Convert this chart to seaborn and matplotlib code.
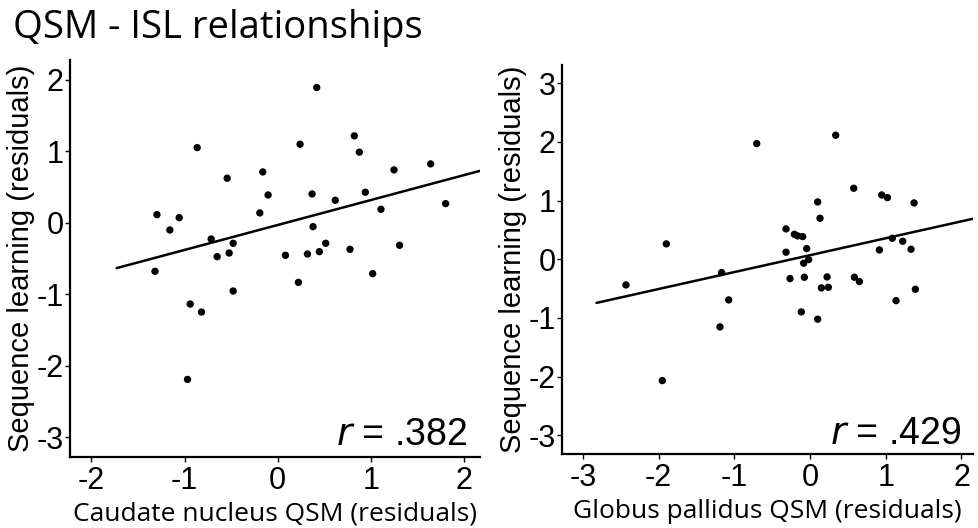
import numpy as np
import pandas as pd
import matplotlib
matplotlib.use("Agg")
import matplotlib.pyplot as plt
import seaborn as sns

# Caudate nucleus panel
caudate_x = [0.418, -0.865, 0.239, 0.821, 0.875, 1.640, 1.247, -0.161, -0.543, -0.104,
             0.368, 0.939, 0.617, 1.801, 1.107, -1.297, -1.058, -0.193, -1.158, 0.378,
             -0.715, -0.479, -0.522, -0.651, 0.082, 0.318, 0.446, 0.514, 0.775, 1.307,
             -1.318, 1.018, 0.221, -0.479, -0.940, -0.819, -0.969]
caudate_y = [1.888, 1.049, 1.096, 1.213, 0.985, 0.821, 0.737, 0.709, 0.621, 0.387,
             0.401, 0.425, 0.313, 0.266, 0.187, 0.112, 0.070, 0.136, -0.102, -0.056,
             -0.228, -0.288, -0.424, -0.475, -0.456, -0.438, -0.405, -0.288, -0.372, -0.316,
             -0.680, -0.713, -0.834, -0.955, -1.137, -1.249, -2.190]

# Globus pallidus panel
pallidus_x = [0.339, -0.704, 0.577, 0.947, 1.022, 0.101, 1.374, 0.132, -0.317, -0.207,
              -0.163, -0.097, 1.087, 1.224, -1.898, -0.044, 0.916, 1.334, -0.317, -0.018,
              -0.084, -1.167, -0.264, -0.075, 0.225, 0.586, 0.652, -2.431, 0.150, 0.242,
              1.391, -1.074, 1.136, -0.115, 0.101, -1.189, -1.951]
pallidus_y = [2.112, 1.970, 1.209, 1.095, 1.050, 0.976, 0.959, 0.698, 0.516, 0.425,
              0.397, 0.385, 0.357, 0.306, 0.261, 0.181, 0.158, 0.170, 0.119, -0.006,
              -0.068, -0.228, -0.330, -0.307, -0.302, -0.307, -0.381, -0.438, -0.489, -0.478,
              -0.512, -0.693, -0.705, -0.898, -1.022, -1.153, -2.068]

title = "QSM - ISL relationships"
ylabel = "Sequence learning (residuals)"
xlabels = ["Caudate nucleus QSM (residuals)", "Globus pallidus QSM (residuals)"]
r_labels = [".382", ".429"]
left_xticks = [-2, -1, 0, 1, 2]
left_yticks = [2, 1, 0, -1, -2, -3]
right_xticks = [-3, -2, -1, 0, 1, 2]
right_yticks = [3, 2, 1, 0, -1, -2, -3]

sns.set_theme(style="ticks")
plt.rcParams['font.family'] = ['Liberation Sans', 'DejaVu Sans']

fig = plt.figure(figsize=(9.79, 5.28), dpi=100)
ax1 = fig.add_axes([0.0715, 0.135, 0.4188, 0.751])
ax2 = fig.add_axes([0.5737, 0.140, 0.420, 0.737])

panels = [
    (ax1, caudate_x, caudate_y, (-1.73, 2.17), (-2.23, 2.17), (-3.27, 2.27), left_xticks, left_yticks, 0.97, 0.03),
    (ax2, pallidus_x, pallidus_y, (-2.82, 2.15), (-3.28, 2.15), (-3.32, 3.31), right_xticks, right_yticks, 0.973, 0.027),
]

for i, (ax, xs, ys, line_rng, xlim, ylim, xt, yt, rx, ry) in enumerate(panels):
    df = pd.DataFrame({"x": xs, "y": ys})
    ax.set_xlim(*line_rng)
    sns.regplot(data=df, x="x", y="y", ax=ax, ci=None, truncate=False,
                scatter_kws=dict(s=28, color="black", edgecolor="none", alpha=1),
                line_kws=dict(color="black", lw=1.8))
    ax.set_xlim(*xlim)
    ax.set_ylim(*ylim)
    ax.set_xticks(xt)
    ax.set_yticks(yt)
    ax.set_xticklabels([str(v) for v in xt])
    ax.set_yticklabels([str(v) for v in yt])
    for s in ["top", "right"]:
        ax.spines[s].set_visible(False)
    for s in ["left", "bottom"]:
        ax.spines[s].set_linewidth(1.6)
        ax.spines[s].set_color("black")
    ax.tick_params(axis="both", direction="out", length=3.5, width=1.0, colors="black",
                   labelsize=22)
    ax.tick_params(axis="y", pad=1)
    ax.tick_params(axis="x", pad=3)
    ax.set_xlabel(xlabels[i], fontsize=19, family=["Open Sans", "DejaVu Sans"],
                  labelpad=4, color="black")
    ax.set_ylabel(ylabel, fontsize=21, labelpad=1, color="black")
    ax.text(rx, ry, r"$\it{r}$ = " + r_labels[i], transform=ax.transAxes,
            ha="right", va="baseline", fontsize=27, color="black")

fig.text(13 / 979, 1 - 38 / 528, title, ha="left", va="baseline",
         fontsize=27.5, family=["Open Sans", "DejaVu Sans"], color="black")

fig.savefig("out.png", dpi=100, facecolor="white")
